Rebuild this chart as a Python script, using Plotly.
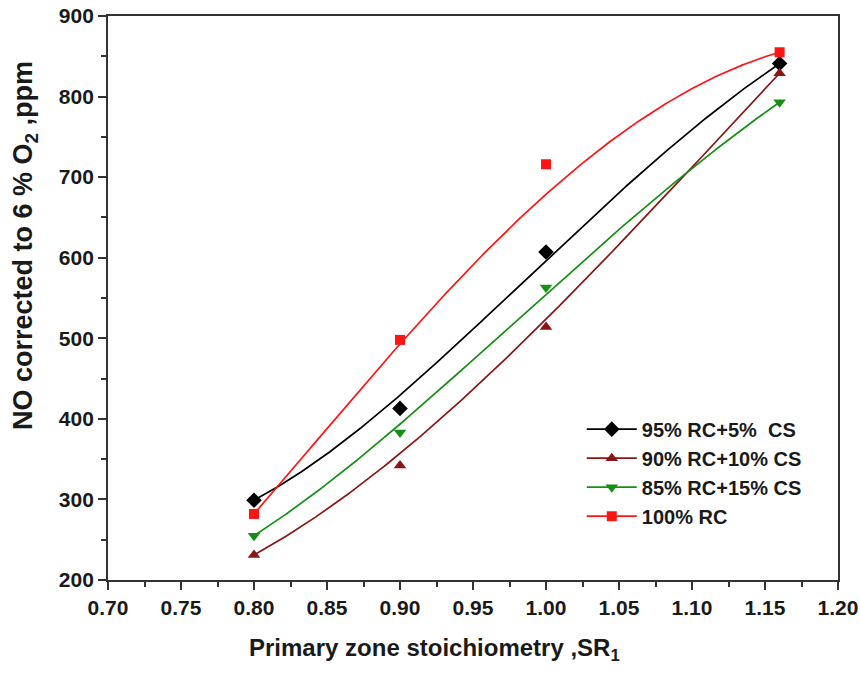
import numpy as np
from math import comb
import plotly.graph_objects as go

sr = [0.80, 0.90, 1.00, 1.16]
rc95_cs5 = [299, 413, 607, 841]
rc90_cs10 = [231, 342, 514, 829]
rc85_cs15 = [255, 383, 563, 793]
rc100 = [282, 498, 716, 855]

names = ["95% RC+5%  CS", "90% RC+10% CS", "85% RC+15% CS", "100% RC"]
series = [rc95_cs5, rc90_cs10, rc85_cs15, rc100]
colors = ["#000000", "#8B1414", "#159015", "#FF1414"]
symbols = ["diamond", "triangle-up", "triangle-down", "square"]
msizes = [12, 11, 11, 10]

x_ticks = [0.70, 0.75, 0.80, 0.85, 0.90, 0.95, 1.00, 1.05, 1.10, 1.15, 1.20]
y_ticks = [200, 300, 400, 500, 600, 700, 800, 900]
x_title = "Primary zone stoichiometry ,SR<sub>1</sub>"
y_title = "NO corrected to 6 % O<sub>2</sub> ,ppm"


def smooth_curve(xs, ys, n=300, w_bez=0.75):
    """Smoothed connecting curve (B-spline-like): Bezier blended with interpolating cubic."""
    xs = np.asarray(xs, float)
    ys = np.asarray(ys, float)
    t = np.linspace(0, 1, n)
    k = len(xs) - 1
    bx = np.zeros_like(t)
    by = np.zeros_like(t)
    for i in range(k + 1):
        b = comb(k, i) * t**i * (1 - t)**(k - i)
        bx += b * xs[i]
        by += b * ys[i]
    gx = np.linspace(xs[0], xs[-1], n)
    bez = np.interp(gx, bx, by)
    poly = np.polyval(np.polyfit(xs, ys, k), gx)
    return gx, w_bez * bez + (1 - w_bez) * poly


fig = go.Figure()
for name, ys, c, s, ms in zip(names, series, colors, symbols, msizes):
    cx, cy = smooth_curve(sr, ys)
    fig.add_trace(go.Scatter(x=cx, y=cy, mode="lines", line=dict(color=c, width=1.7),
                             showlegend=False, hoverinfo="skip"))
    fig.add_trace(go.Scatter(x=sr, y=ys, mode="markers",
                             marker=dict(color=c, symbol=s, size=ms),
                             showlegend=False))
    fig.add_trace(go.Scatter(x=[None], y=[None], mode="lines+markers", name=name,
                             line=dict(color=c, width=1.7),
                             marker=dict(color=c, symbol=s, size=ms)))

FAM = "Liberation Sans, Arial, sans-serif"
tick_font = dict(family=FAM, size=21, color="#1a1a1a", weight="bold")

fig.update_layout(
    width=860, height=680,
    margin=dict(l=108, r=22, t=16, b=100),
    paper_bgcolor="white", plot_bgcolor="white",
    showlegend=True,
    legend=dict(x=0.649, y=0.302, xanchor="left", yanchor="top",
                font=dict(family=FAM, size=20, color="#1a1a1a", weight="bold"),
                bgcolor="rgba(0,0,0,0)", borderwidth=0, itemwidth=50, tracegroupgap=0),
    xaxis=dict(range=[0.70, 1.20], tickvals=x_ticks, ticktext=[f"{v:.2f}" for v in x_ticks],
               ticks="outside", ticklen=8, tickwidth=1.5, tickcolor="#333",
               showline=True, linecolor="#333", linewidth=1.8, mirror=True,
               showgrid=False, zeroline=False, tickfont=tick_font, automargin=False,
               minor=dict(dtick=0.025, tick0=0.70, ticks="outside", ticklen=5,
                          tickcolor="#333", showgrid=False)),
    yaxis=dict(range=[200, 900], tickvals=y_ticks,
               ticks="outside", ticklen=8, tickwidth=1.5, tickcolor="#333",
               showline=True, linecolor="#333", linewidth=1.8, mirror=True,
               showgrid=False, zeroline=False, tickfont=tick_font, automargin=False,
               minor=dict(dtick=50, tick0=200, ticks="outside", ticklen=5,
                          tickcolor="#333", showgrid=False)),
    annotations=[
        dict(text=x_title, xref="paper", yref="paper", x=0.4466, y=-0.124,
             xanchor="center", yanchor="middle", showarrow=False,
             font=dict(family=FAM, size=24, color="#1a1a1a", weight="bold")),
        dict(text=y_title, xref="paper", yref="paper", x=-0.1137, y=0.594,
             xanchor="center", yanchor="middle", showarrow=False, textangle=-90,
             font=dict(family=FAM, size=27, color="#1a1a1a", weight="bold")),
    ],
)

fig.write_html("out.html")
